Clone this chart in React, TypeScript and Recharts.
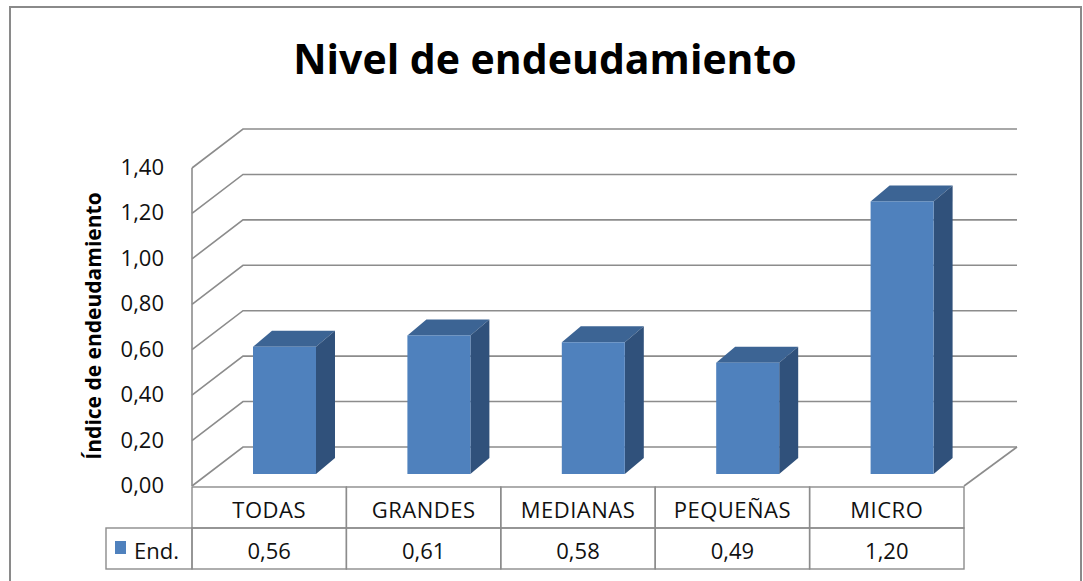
import React from "react";
import { BarChart, Bar, XAxis, YAxis, CartesianGrid } from "recharts";

const categories = ["TODAS", "GRANDES", "MEDIANAS", "PEQUEÑAS", "MICRO"];
const endValues = [0.56, 0.61, 0.58, 0.49, 1.2];
const yTicks = [0, 0.2, 0.4, 0.6, 0.8, 1.0, 1.2, 1.4];
const seriesName = "End.";
const chartTitle = "Nivel de endeudamiento";
const yTitle = "Índice de endeudamiento";

const data = categories.map((name, i) => ({ name, end: endValues[i] }));

const W = 1083;
const H = 581;
const X_AXIS_H = 40;
const MARGIN = { top: 156, right: 104, bottom: 107 - X_AXIS_H, left: 147 };
const PLOT_TOP = MARGIN.top;
const PLOT_BOTTOM = H - 107;

// fake 3d offsets (excel style)
const FRONT_DX = -15;
const FRONT_DY = 12;
const BACK_DX = 36;
const BACK_DX_R = 38;
const BACK_DY = -27;
const BAR_DX = 19;
const BAR_DY = -16;

const FRONT = "#4F81BD";
const TOP = "#3C6494";
const SIDE = "#30517B";
const GRID = "#8c8c8c";
const FONT = "'Open Sans', sans-serif";

const fmt = (v: number) => v.toFixed(2).replace(".", ",");

const GridLine = (props: any) => {
  const { x1, x2, y1 } = props;
  const isBottom = Math.abs(y1 - PLOT_BOTTOM) < 1;
  return (
    <g>
      <path
        d={`M${x1 + FRONT_DX},${y1 + FRONT_DY} L${x1 + BACK_DX},${y1 + BACK_DY} L${x2 + BACK_DX_R},${y1 + BACK_DY}`}
        stroke={GRID}
        strokeWidth={1.6}
        fill="none"
      />
      {isBottom && (
        <>
          <path
            d={`M${x2 + BACK_DX_R},${y1 + BACK_DY} L${x2 + FRONT_DX},${y1 + FRONT_DY}`}
            stroke={GRID}
            strokeWidth={1.6}
            fill="none"
          />
          <line
            x1={x1 + FRONT_DX}
            y1={PLOT_TOP + FRONT_DY}
            x2={x1 + FRONT_DX}
            y2={y1 + FRONT_DY}
            stroke={GRID}
            strokeWidth={1.6}
          />
        </>
      )}
    </g>
  );
};

const Bar3D = (props: any) => {
  const { x, y, width, height } = props;
  return (
    <g>
      <path
        d={`M${x},${y} L${x + BAR_DX},${y + BAR_DY} L${x + width + BAR_DX},${y + BAR_DY} L${x + width},${y} Z`}
        fill={TOP}
      />
      <path
        d={`M${x + width},${y} L${x + width + BAR_DX},${y + BAR_DY} L${x + width + BAR_DX},${y + height + BAR_DY} L${x + width},${y + height} Z`}
        fill={SIDE}
      />
      <rect x={x} y={y} width={width} height={height} fill={FRONT} />
    </g>
  );
};

const YTick = (props: any) => {
  const { x, y, payload } = props;
  return (
    <text
      x={x}
      y={y + 10}
      textAnchor="end"
      dominantBaseline="central"
      fontFamily={FONT}
      fontSize={22}
      fill="#111"
    >
      {fmt(payload.value)}
    </text>
  );
};

// x ticks draw the data table under the chart
const XTick = (props: any) => {
  const { x, y, payload, index } = props;
  const half = payload.offset || 77;
  const cx = x + FRONT_DX;
  const top = y + 13;
  const rowH = 41;
  return (
    <g>
      <rect x={cx - half} y={top} width={half * 2} height={rowH} fill="none" stroke={GRID} strokeWidth={1.4} />
      <rect x={cx - half} y={top + rowH} width={half * 2} height={rowH} fill="none" stroke={GRID} strokeWidth={1.4} />
      <text x={cx} y={top + rowH / 2 + 1} textAnchor="middle" dominantBaseline="central" fontFamily={FONT} fontSize={22} fill="#111" letterSpacing={0.5}>
        {payload.value}
      </text>
      <text x={cx} y={top + rowH * 1.5 + 1} textAnchor="middle" dominantBaseline="central" fontFamily={FONT} fontSize={22} fill="#111">
        {fmt(endValues[index])}
      </text>
      {index === 0 && (
        <g>
          <rect x={106} y={top + rowH} width={cx - half - 106} height={rowH} fill="none" stroke={GRID} strokeWidth={1.4} />
          <rect x={115} y={top + rowH + 13} width={11} height={13} fill={FRONT} />
          <text x={134} y={top + rowH * 1.5 + 1} dominantBaseline="central" fontFamily={FONT} fontSize={22} fill="#111">
            {seriesName}
          </text>
        </g>
      )}
    </g>
  );
};

const YTitle = (props: any) => {
  const vb = props.viewBox;
  const cx = vb.x - 54;
  const cy = vb.y + vb.height / 2 + 11;
  return (
    <text
      x={cx}
      y={cy}
      transform={`rotate(-90, ${cx}, ${cy})`}
      textAnchor="middle"
      dominantBaseline="central"
      fontFamily={FONT}
      fontWeight="bold"
      fontSize={21}
      fill="#000"
    >
      {yTitle}
    </text>
  );
};

export default function App() {
  return (
    <div style={{ position: "absolute", left: 0, top: 0, width: W, height: H, background: "#fff" }}>
      <BarChart width={W} height={H} data={data} margin={MARGIN}>
        <CartesianGrid vertical={false} horizontal={GridLine} />
        <XAxis
          dataKey="name"
          height={X_AXIS_H}
          axisLine={false}
          tickLine={false}
          tickSize={0}
          tickMargin={0}
          interval={0}
          tick={XTick}
        />
        <YAxis
          domain={[0, 1.4]}
          ticks={yTicks}
          interval={0}
          width={60}
          axisLine={false}
          tickLine={false}
          tickSize={0}
          tickMargin={43}
          tick={YTick}
          label={{ content: YTitle }}
        />
        <Bar dataKey="end" barSize={63} shape={Bar3D} isAnimationActive={false} />
      </BarChart>
      <svg width={W} height={H} style={{ position: "absolute", left: 0, top: 0, pointerEvents: "none" }}>
        <rect x={10} y={7} width={1071} height={H + 20} fill="none" stroke="#8a8a8a" strokeWidth={2} />
        <text x={545} y={74} textAnchor="middle" fontFamily={FONT} fontWeight="bold" fontSize={41} fill="#000">
          {chartTitle}
        </text>
      </svg>
    </div>
  );
}
